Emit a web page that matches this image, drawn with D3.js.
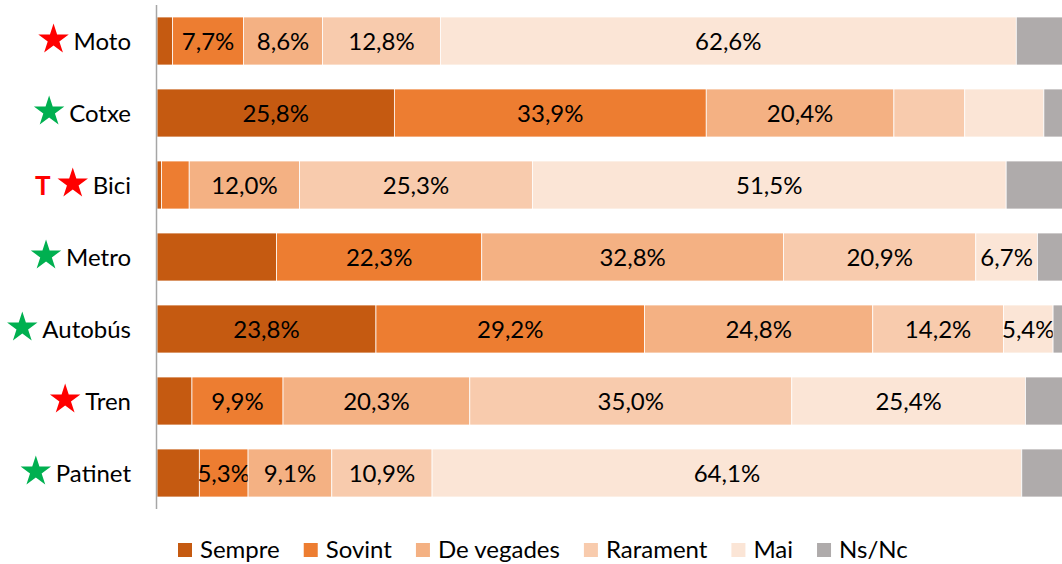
<!DOCTYPE html>
<html>
<head>
<meta charset="utf-8">
<script src="https://cdn.jsdelivr.net/npm/d3@7"></script>
<style>
  body { margin: 0; background: #fff; }
  svg { display: block; font-family: Lato, "Open Sans", sans-serif; }
</style>
</head>
<body>
<svg id="chart" width="1062" height="564"></svg>
<script>
// Dades
const categories = ['Moto', 'Cotxe', 'Bici', 'Metro', 'Autobús', 'Tren', 'Patinet'];
const seriesNames = ['Sempre', 'Sovint', 'De vegades', 'Rarament', 'Mai', 'Ns/Nc'];
const sempre    = [1.7, 25.8, 0.5, 13.0, 23.8, 3.8, 4.6];
const sovint    = [7.7, 33.9, 3.0, 22.3, 29.2, 9.9, 5.3];
const deVegades = [8.6, 20.4, 12.0, 32.8, 24.8, 20.3, 9.1];
const rarament  = [12.8, 7.7, 25.3, 20.9, 14.2, 35.0, 10.9];
const mai       = [62.6, 8.6, 51.5, 6.7, 5.4, 25.4, 64.1];
const nsnc      = [6.6, 3.6, 7.7, 4.3, 2.6, 5.6, 6.0];
// etiquetes que no es mostren al gràfic original
const hiddenLabels = [
  ['Sempre', 'Ns/Nc'],
  ['Rarament', 'Mai', 'Ns/Nc'],
  ['Sempre', 'Sovint', 'Ns/Nc'],
  ['Sempre', 'Ns/Nc'],
  ['Ns/Nc'],
  ['Sempre', 'Ns/Nc'],
  ['Sempre', 'Ns/Nc']
];
// marques (estrella) al costat de cada categoria
const starColors = ['red', 'green', 'red', 'green', 'green', 'red', 'green'];
const prefixes = ['', '', 'T', '', '', '', ''];

const colors = ['#C55A11', '#ED7D31', '#F4B183', '#F8CBAD', '#FBE5D6', '#AFABAB'];
const starFill = { red: '#FF0000', green: '#00B050' };

const allSeries = [sempre, sovint, deVegades, rarament, mai, nsnc];
const rows = categories.map((c, i) => {
  const r = { category: c, idx: i };
  seriesNames.forEach((s, j) => { r[s] = allSeries[j][i]; });
  return r;
});

const svg = d3.select('#chart');

const x = d3.scaleLinear().domain([0, 100]).range([157, 1077]);
const y = d3.scaleBand().domain(categories).range([5, 509])
  .paddingInner(1 / 3).paddingOuter(1 / 6);
const color = d3.scaleOrdinal().domain(seriesNames).range(colors);

const stacked = d3.stack().keys(seriesNames)(rows);

// Barres
const layers = svg.append('g').selectAll('g')
  .data(stacked)
  .join('g')
  .attr('fill', d => color(d.key));

layers.selectAll('rect')
  .data(d => d.map(p => Object.assign(p, { key: d.key })))
  .join('rect')
  .attr('x', d => x(d[0]))
  .attr('y', d => y(d.data.category))
  .attr('width', d => x(d[1]) - x(d[0]))
  .attr('height', y.bandwidth())
  .attr('stroke', '#fff')
  .attr('stroke-width', 0.75);

// Etiquetes de valor
const fmt = v => v.toFixed(1).replace('.', ',') + '%';
layers.selectAll('text')
  .data(d => d.filter(p => !hiddenLabels[p.data.idx].includes(d.key)))
  .join('text')
  .attr('x', d => (x(d[0]) + x(d[1])) / 2)
  .attr('y', d => y(d.data.category) + y.bandwidth() / 2 + 8.5)
  .attr('text-anchor', 'middle')
  .attr('font-size', 24)
  .attr('fill', '#000')
  .text(d => fmt(d[1] - d[0]));

// Eix vertical
svg.append('line')
  .attr('x1', 156.5).attr('x2', 156.5)
  .attr('y1', 5).attr('y2', 509)
  .attr('stroke', '#A6A6A6')
  .attr('stroke-width', 1.5);

// Etiquetes de categoria amb estrelles
const star = d3.symbol().type(d3.symbolStar).size(16 * 16 / 0.8908130915292852);
categories.forEach((c, i) => {
  const cy = y(c) + y.bandwidth() / 2;
  const t = svg.append('text')
    .attr('x', 131)
    .attr('y', cy + 8.5)
    .attr('text-anchor', 'end')
    .attr('font-size', 24)
    .attr('fill', '#000')
    .text(c);
  const w = t.node().getComputedTextLength();
  const sx = 131 - w - 20;
  svg.append('path')
    .attr('d', star())
    .attr('transform', `translate(${sx},${cy - 1.5})`)
    .attr('fill', starFill[starColors[i]]);
  if (prefixes[i]) {
    svg.append('text')
      .attr('x', sx - 30)
      .attr('y', cy + 10)
      .attr('text-anchor', 'middle')
      .attr('font-size', 26)
      .attr('font-weight', 'bold')
      .attr('fill', '#FF0000')
      .text(prefixes[i]);
  }
});

// Llegenda
const legend = svg.append('g');
let lx = 178;
seriesNames.forEach(s => {
  legend.append('rect')
    .attr('x', lx).attr('y', 543)
    .attr('width', 14).attr('height', 14)
    .attr('fill', color(s));
  const t = legend.append('text')
    .attr('x', lx + 22).attr('y', 558)
    .attr('font-size', 24)
    .attr('fill', '#000')
    .text(s);
  lx += 22 + t.node().getComputedTextLength() + 24;
});
</script>
</body>
</html>
